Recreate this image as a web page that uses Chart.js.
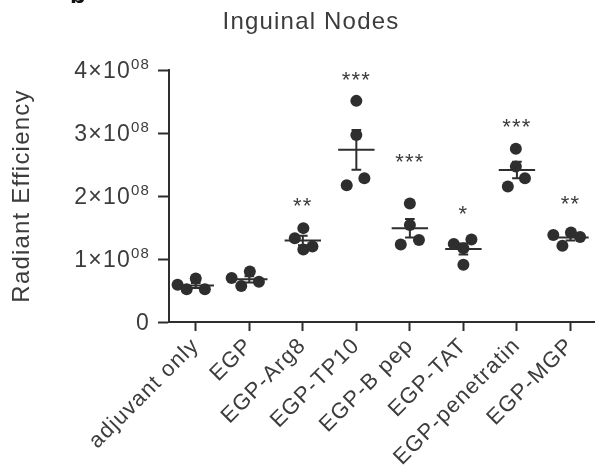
<!DOCTYPE html>
<html>
<head>
<meta charset="utf-8">
<script src="https://cdn.jsdelivr.net/npm/chart.js@4.4.0/dist/chart.umd.min.js"></script>
<style>
  html, body { margin: 0; padding: 0; background: #fff; }
</style>
</head>
<body>
<canvas id="chart" width="600" height="473"></canvas>
<script>
var categories = ['adjuvant only', 'EGP', 'EGP-Arg8', 'EGP-TP10', 'EGP-B pep', 'EGP-TAT', 'EGP-penetratin', 'EGP-MGP'];

// radiant efficiency per animal (4 per group)
var adjuvantOnly = [0.59e8, 0.52e8, 0.69e8, 0.52e8];
var egp = [0.70e8, 0.57e8, 0.80e8, 0.64e8];
var egpArg8 = [1.33e8, 1.49e8, 1.15e8, 1.20e8];
var egpTp10 = [3.51e8, 2.97e8, 2.17e8, 2.28e8];
var egpBpep = [1.88e8, 1.54e8, 1.23e8, 1.30e8];
var egpTat = [1.24e8, 1.31e8, 1.17e8, 0.91e8];
var egpPenetratin = [2.75e8, 2.47e8, 2.28e8, 2.15e8];
var egpMgp = [1.38e8, 1.21e8, 1.42e8, 1.35e8];

var groups = [adjuvantOnly, egp, egpArg8, egpTp10, egpBpep, egpTat, egpPenetratin, egpMgp];

// scatter jitter of each dot, in category widths
var jitter = [
    [-0.34, -0.17, 0, 0.17],
    [-0.33, -0.15, 0.01, 0.18],
    [-0.15, 0.01, 0.01, 0.18],
    [0, 0, -0.18, 0.15],
    [0, 0, -0.17, 0.17],
    [-0.18, 0.15, 0, 0],
    [-0.02, -0.02, 0.15, -0.17],
    [-0.32, -0.15, 0.01, 0.18]
];

// significance marks and the height they sit at
var stars = ['', '', '**', '***', '***', '*', '***', '**'];
var starLevel = [null, null, 1.92e8, 3.92e8, 2.62e8, 1.79e8, 3.18e8, 1.95e8];

var yTicks = [0, 1e8, 2e8, 3e8, 4e8];
var yTickBase = ['0', '1×10', '2×10', '3×10', '4×10'];
var yTickExp = ['', '08', '08', '08', '08'];

var ink = '#2e2e2e';
var textInk = '#3c3c3c';
var family = "'Liberation Sans', Arial, sans-serif";
var tracking = '1.2px';

function mean(vals) {
    var s = 0;
    vals.forEach(function(v) { s += v; });
    return s / vals.length;
}

function sem(vals) {
    var m = mean(vals), ss = 0;
    vals.forEach(function(v) { ss += (v - m) * (v - m); });
    return Math.sqrt(ss / (vals.length - 1)) / Math.sqrt(vals.length);
}

var points = [];
groups.forEach(function(vals, i) {
    vals.forEach(function(v, j) {
        points.push({ x: i + jitter[i][j], y: v });
    });
});

// the figure's lettering is a little wider than Arial
var spacing = {
    id: 'spacing',
    beforeUpdate: function(chart) { chart.ctx.letterSpacing = tracking; },
    beforeDraw: function(chart) { chart.ctx.letterSpacing = tracking; }
};

var overlay = {
    id: 'overlay',
    afterDatasetsDraw: function(chart) {
        var ctx = chart.ctx,
            xs = chart.scales.x,
            ys = chart.scales.y;
        ctx.save();
        ctx.strokeStyle = ink;
        ctx.lineWidth = 2;
        groups.forEach(function(vals, i) {
            var m = mean(vals),
                s = sem(vals),
                x = xs.getPixelForValue(i),
                half = xs.getPixelForValue(i + 0.34) - x,
                cap = xs.getPixelForValue(i + 0.09) - x,
                ym = ys.getPixelForValue(m),
                yt = ys.getPixelForValue(m + s),
                yb = ys.getPixelForValue(m - s);
            ctx.beginPath();
            ctx.moveTo(x - half, ym);
            ctx.lineTo(x + half, ym);
            ctx.moveTo(x, yt);
            ctx.lineTo(x, yb);
            ctx.moveTo(x - cap, yt);
            ctx.lineTo(x + cap, yt);
            ctx.moveTo(x - cap, yb);
            ctx.lineTo(x + cap, yb);
            ctx.stroke();
        });

        ctx.fillStyle = textInk;
        ctx.font = '22px ' + family;
        ctx.textAlign = 'center';
        ctx.textBaseline = 'alphabetic';
        stars.forEach(function(st, i) {
            if (!st) {
                return;
            }
            ctx.fillText(st, xs.getPixelForValue(i), ys.getPixelForValue(starLevel[i]) + 12);
        });
        ctx.restore();
    },
    afterDraw: function(chart) {
        var ctx = chart.ctx,
            ys = chart.scales.y,
            right = 150;
        ctx.save();
        ctx.fillStyle = textInk;
        ctx.textBaseline = 'alphabetic';

        yTicks.forEach(function(v, i) {
            var y = ys.getPixelForValue(v) + 8;
            ctx.font = '15px ' + family;
            var ew = yTickExp[i] ? ctx.measureText(yTickExp[i]).width : 0;
            ctx.textAlign = 'right';
            if (ew) {
                ctx.fillText(yTickExp[i], right, y - 9);
            }
            ctx.font = '23px ' + family;
            ctx.fillText(yTickBase[i], right - ew, y);
        });

        ctx.textAlign = 'center';
        ctx.font = '24px ' + family;
        ctx.fillText('Inguinal Nodes', 311, 29);

        ctx.textAlign = 'left';
        ctx.font = 'bold 26px ' + family;
        ctx.fillStyle = '#111';
        ctx.fillText('b', 70, 3);
        ctx.restore();
    }
};

new Chart(document.getElementById('chart'), {
    type: 'scatter',
    data: {
        datasets: [{
            data: points,
            backgroundColor: ink,
            borderWidth: 0,
            pointRadius: 6,
            pointHoverRadius: 6
        }]
    },
    options: {
        responsive: false,
        animation: false,
        events: [],
        layout: { padding: { top: 70, right: 0, left: 0, bottom: 0 } },
        plugins: {
            legend: { display: false },
            tooltip: { enabled: false }
        },
        scales: {
            x: {
                type: 'linear',
                min: -0.5,
                max: 7.44,
                afterBuildTicks: function(scale) {
                    scale.ticks = categories.map(function(c, i) { return { value: i }; });
                },
                afterFit: function(scale) {
                    scale.height = 151;
                    scale.paddingLeft = 0;
                    scale.paddingRight = 0;
                },
                ticks: {
                    autoSkip: false,
                    minRotation: 45,
                    maxRotation: 45,
                    padding: 2,
                    color: textInk,
                    font: { family: family, size: 22 },
                    callback: function(v) { return categories[v]; }
                },
                grid: {
                    drawOnChartArea: false,
                    drawTicks: true,
                    tickLength: 9,
                    tickWidth: 2,
                    color: ink
                },
                border: { display: true, color: ink, width: 2 }
            },
            y: {
                min: 0,
                max: 4e8,
                afterBuildTicks: function(scale) {
                    scale.ticks = yTicks.map(function(v) { return { value: v }; });
                },
                afterFit: function(scale) {
                    scale.width = 169;
                    scale.paddingTop = 0;
                    scale.paddingBottom = 0;
                },
                ticks: { display: false },
                title: {
                    display: true,
                    text: 'Radiant Efficiency',
                    color: textInk,
                    font: { family: family, size: 24 },
                    padding: { top: 8, bottom: 0 }
                },
                grid: {
                    drawOnChartArea: false,
                    drawTicks: true,
                    tickLength: 11,
                    tickWidth: 2,
                    color: ink
                },
                border: { display: true, color: ink, width: 2 }
            }
        }
    },
    plugins: [spacing, overlay]
});
</script>
</body>
</html>
